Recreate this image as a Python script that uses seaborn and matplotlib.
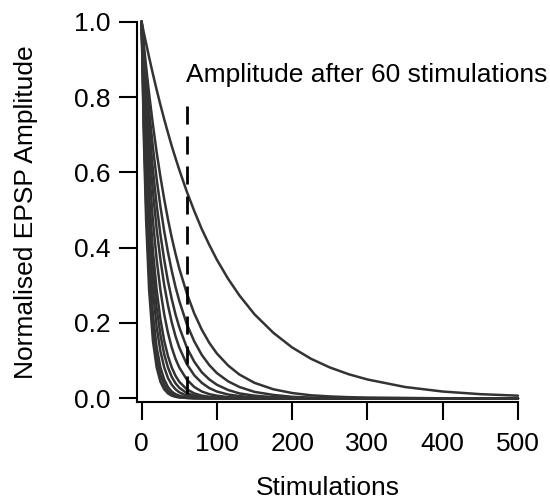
import pandas as pd
import seaborn as sns
import matplotlib.pyplot as plt

stims = [0, 3, 6, 10, 15, 20, 25, 30, 35, 40, 45, 50, 60, 70, 80, 90, 100,
         115, 130, 150, 175, 200, 225, 250, 275, 300, 350, 400, 450, 500]

# normalised EPSP amplitude of each curve, slowest to fastest
curve_1 = [1, 0.970, 0.942, 0.905, 0.861, 0.819, 0.779, 0.741, 0.705, 0.670, 0.638, 0.607, 0.549, 0.497, 0.449, 0.407, 0.368,
           0.317, 0.273, 0.223, 0.174, 0.135, 0.105, 0.082, 0.064, 0.050, 0.030, 0.018, 0.011, 0.007]
curve_2 = [1, 0.938, 0.880, 0.808, 0.727, 0.653, 0.588, 0.529, 0.475, 0.427, 0.384, 0.345, 0.279, 0.225, 0.182, 0.147, 0.119,
           0.087, 0.063, 0.041, 0.024, 0.014, 0.008, 0.005, 0.003, 0.002, 0.001, 0.000, 0.000, 0.000]
curve_3 = [1, 0.922, 0.850, 0.763, 0.667, 0.582, 0.509, 0.444, 0.388, 0.339, 0.296, 0.259, 0.197, 0.151, 0.115, 0.088, 0.067,
           0.045, 0.030, 0.017, 0.009, 0.004, 0.002, 0.001, 0.000, 0.000, 0.000, 0.000, 0.000, 0.000]
curve_4 = [1, 0.905, 0.819, 0.717, 0.607, 0.513, 0.435, 0.368, 0.311, 0.264, 0.223, 0.189, 0.135, 0.097, 0.069, 0.050, 0.036,
           0.022, 0.013, 0.007, 0.003, 0.001, 0.000, 0.000, 0.000, 0.000, 0.000, 0.000, 0.000, 0.000]
curve_5 = [1, 0.887, 0.787, 0.670, 0.549, 0.449, 0.368, 0.301, 0.247, 0.202, 0.165, 0.135, 0.091, 0.061, 0.041, 0.027, 0.018,
           0.010, 0.006, 0.002, 0.001, 0.000, 0.000, 0.000, 0.000, 0.000, 0.000, 0.000, 0.000, 0.000]
curve_6 = [1, 0.861, 0.741, 0.607, 0.472, 0.368, 0.287, 0.223, 0.174, 0.135, 0.105, 0.082, 0.050, 0.030, 0.018, 0.011, 0.007,
           0.003, 0.002, 0.001, 0.000, 0.000, 0.000, 0.000, 0.000, 0.000, 0.000, 0.000, 0.000, 0.000]
curve_7 = [1, 0.829, 0.687, 0.535, 0.392, 0.287, 0.210, 0.153, 0.112, 0.082, 0.060, 0.044, 0.024, 0.013, 0.007, 0.004, 0.002,
           0.001, 0.000, 0.000, 0.000, 0.000, 0.000, 0.000, 0.000, 0.000, 0.000, 0.000, 0.000, 0.000]
curve_8 = [1, 0.807, 0.651, 0.490, 0.343, 0.240, 0.168, 0.117, 0.082, 0.057, 0.040, 0.028, 0.014, 0.007, 0.003, 0.002, 0.001,
           0.000, 0.000, 0.000, 0.000, 0.000, 0.000, 0.000, 0.000, 0.000, 0.000, 0.000, 0.000, 0.000]
curve_9 = [1, 0.779, 0.607, 0.435, 0.287, 0.189, 0.125, 0.082, 0.054, 0.036, 0.024, 0.016, 0.007, 0.003, 0.001, 0.000, 0.000,
           0.000, 0.000, 0.000, 0.000, 0.000, 0.000, 0.000, 0.000, 0.000, 0.000, 0.000, 0.000, 0.000]
curve_10 = [1, 0.741, 0.549, 0.368, 0.223, 0.135, 0.082, 0.050, 0.030, 0.018, 0.011, 0.007, 0.002, 0.001, 0.000, 0.000, 0.000,
            0.000, 0.000, 0.000, 0.000, 0.000, 0.000, 0.000, 0.000, 0.000, 0.000, 0.000, 0.000, 0.000]
curve_11 = [1, 0.717, 0.513, 0.329, 0.189, 0.108, 0.062, 0.036, 0.020, 0.012, 0.007, 0.004, 0.001, 0.000, 0.000, 0.000, 0.000,
            0.000, 0.000, 0.000, 0.000, 0.000, 0.000, 0.000, 0.000, 0.000, 0.000, 0.000, 0.000, 0.000]
curve_12 = [1, 0.687, 0.472, 0.287, 0.153, 0.082, 0.044, 0.024, 0.013, 0.007, 0.004, 0.002, 0.001, 0.000, 0.000, 0.000, 0.000,
            0.000, 0.000, 0.000, 0.000, 0.000, 0.000, 0.000, 0.000, 0.000, 0.000, 0.000, 0.000, 0.000]

curves = [curve_1, curve_2, curve_3, curve_4, curve_5, curve_6,
          curve_7, curve_8, curve_9, curve_10, curve_11, curve_12]

marker_stim = 60
marker_top = 0.775
x_ticks = [0, 100, 200, 300, 400, 500]
y_ticks = [0.0, 0.2, 0.4, 0.6, 0.8, 1.0]

# long-form table for seaborn
rows = []
for i, amps in enumerate(curves):
    assert len(amps) == len(stims)
    for s, a in zip(stims, amps):
        rows.append({'curve': i, 'Stimulations': s, 'Amplitude': a})
df = pd.DataFrame(rows)

sns.set_style('ticks')
plt.rcParams['font.family'] = ['Liberation Sans', 'DejaVu Sans']
plt.rcParams['text.color'] = 'black'
plt.rcParams['axes.labelcolor'] = 'black'
fs = 19

fig = plt.figure(figsize=(5.5, 5.03), dpi=100)
ax = fig.add_axes([0.249, 0.2014, 0.6927, 0.7555])

sns.lineplot(data=df, x='Stimulations', y='Amplitude', units='curve', estimator=None,
             color='#333333', linewidth=1.8, ax=ax, clip_on=False, legend=False)

# dashed marker at 60 stimulations
ax.plot([marker_stim, marker_stim], [marker_top, 0], color='black', linewidth=2,
        dashes=(6.5, 4.3))
ax.text(59, 0.84, 'Amplitude after 60 stimulations', ha='left', va='baseline',
        fontsize=fs, color='black')

ax.set_xlim(-6.2, 500)
ax.set_ylim(-0.009, 1.0)
ax.set_xticks(x_ticks)
ax.set_yticks(y_ticks)
ax.set_yticklabels([f'{v:.1f}' for v in y_ticks])
ax.set_xlabel('Stimulations', fontsize=fs, labelpad=14, color='black')
ax.set_ylabel('Normalised EPSP Amplitude', fontsize=fs, labelpad=26, color='black')

for side in ['top', 'right']:
    ax.spines[side].set_visible(False)
for side in ['left', 'bottom']:
    ax.spines[side].set_linewidth(1.5)
    ax.spines[side].set_color('black')
ax.tick_params(axis='both', length=13, width=1.5, colors='black', labelsize=fs)
ax.tick_params(axis='y', pad=6)
ax.tick_params(axis='x', pad=9)

fig.savefig('out.png', dpi=100)
